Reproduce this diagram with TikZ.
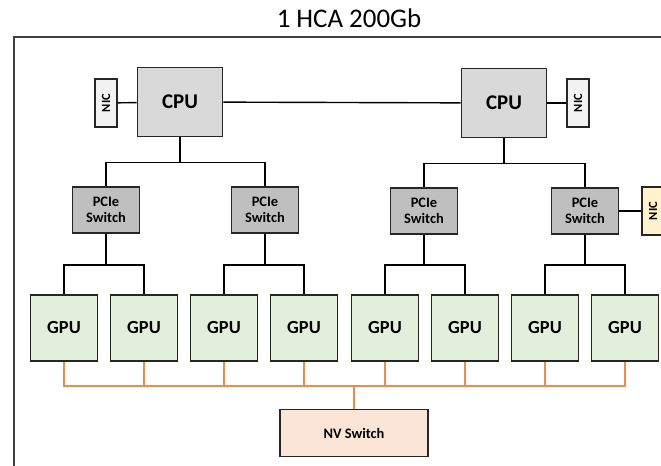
\documentclass[tikz,border=0pt]{standalone}
\usepackage{fontspec}
\setmainfont{Carlito}
\usetikzlibrary{positioning}

\definecolor{cpugray}{HTML}{D9D9D9}
\definecolor{pcigray}{HTML}{BFBFBF}
\definecolor{gpugreen}{HTML}{E2EFDA}
\definecolor{nvpeach}{HTML}{FBE5D6}
\definecolor{nicwhite}{HTML}{F2F2F2}
\definecolor{nicyellow}{HTML}{FFF2CC}
\definecolor{nvorange}{HTML}{F08A4B}
\definecolor{boxline}{HTML}{262626}

\tikzset{
  unit/.style={draw=boxline,line width=1.8bp,inner sep=0pt,font=\bfseries},
  cpubox/.style={unit,fill=cpugray,minimum width=85bp,minimum height=69bp,font=\bfseries\fontsize{21}{21}\selectfont},
  pcibox/.style={unit,fill=pcigray,minimum width=67bp,minimum height=46bp,align=center,font=\bfseries\fontsize{14.5}{16}\selectfont},
  gpubox/.style={unit,fill=gpugreen,minimum width=67bp,minimum height=66bp,font=\bfseries\fontsize{18.5}{18.5}\selectfont},
  nvbox/.style={unit,fill=nvpeach,minimum width=148bp,minimum height=47bp,font=\bfseries\fontsize{14.5}{14.5}\selectfont},
  nicbox/.style={unit,fill=nicwhite,rotate=90,minimum width=48bp,minimum height=22bp,font=\bfseries\fontsize{12.5}{12.5}\selectfont},
  pcielink/.style={line width=1.4bp,draw=black},
  nvlink/.style={line width=1.7bp,draw=nvorange}
}

\begin{document}
\begin{tikzpicture}[x=1bp,y=-1bp]
\useasboundingbox (0,0) rectangle (661,466);
\clip (0,0) rectangle (661,466);

% frame and title
\draw[line width=1.2bp,draw=black!75] (14,480) -- (14,37) -- (680,37);
\node[font=\fontsize{27}{27}\selectfont] (title) at (349,18) {1 HCA 200Gb};

% host side
\node[cpubox] (cpu1) at (180,102) {CPU};
\node[cpubox] (cpu2) at (504,103) {CPU};
\node[nicbox] (nic1) at (106,103) {NIC};
\node[nicbox] (nic2) at (578,103) {NIC};

\node[pcibox] (pci1) at (106,210) {PCIe\\Switch};
\node[pcibox] (pci2) at (265,210) {PCIe\\Switch};
\node[pcibox] (pci3) at (424,211) {PCIe\\Switch};
\node[pcibox] (pci4) at (585,211) {PCIe\\Switch};
\node[nicbox,fill=nicyellow] (nic3) at (653,211) {NIC};

% gpus
\foreach \i/\x in {1/64,2/144,3/224,4/304,5/385,6/465,7/545,8/625}
  \node[gpubox] (gpu\i) at (\x,328) {GPU};

\node[nvbox] (nv) at (354,433) {NV Switch};

% cpu links
\draw[pcielink] (nic1) -- (cpu1);
\draw[pcielink] (cpu1) -- (cpu2);
\draw[pcielink] (cpu2) -- (nic2);
\draw[pcielink] (pci4) -- (nic3);
\draw[pcielink] (cpu1.south) -- ++(0,25) -| (pci1.north);
\draw[pcielink] (cpu1.south) -- ++(0,25) -| (pci2.north);
\draw[pcielink] (cpu2.south) -- ++(0,25) -| (pci3.north);
\draw[pcielink] (cpu2.south) -- ++(0,25) -| (pci4.north);

% pcie to gpu
\draw[pcielink] (pci1.south) -- ++(0,31) -| (gpu1.north);
\draw[pcielink] (pci1.south) -- ++(0,31) -| (gpu2.north);
\draw[pcielink] (pci2.south) -- ++(0,31) -| (gpu3.north);
\draw[pcielink] (pci2.south) -- ++(0,31) -| (gpu4.north);
\draw[pcielink] (pci3.south) -- ++(0,30) -| (gpu5.north);
\draw[pcielink] (pci3.south) -- ++(0,30) -| (gpu6.north);
\draw[pcielink] (pci4.south) -- ++(0,30) -| (gpu7.north);
\draw[pcielink] (pci4.south) -- ++(0,30) -| (gpu8.north);

% nvlink
\foreach \i in {1,...,8}
  \draw[nvlink] (gpu\i.south) -- ++(0,24) -| (nv.north);
\end{tikzpicture}
\end{document}
